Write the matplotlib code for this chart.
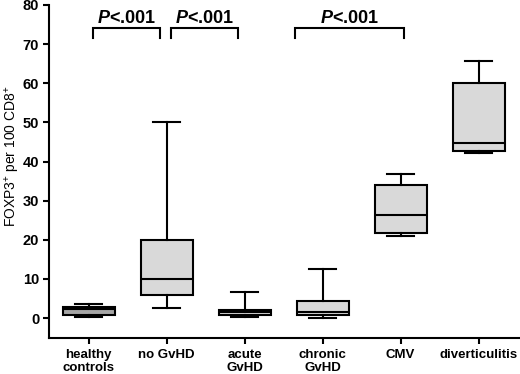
#!/usr/bin/env python3

import matplotlib
matplotlib.use('Agg')
import matplotlib.pyplot as plt

plt.rcParams['font.family'] = ['Liberation Sans', 'DejaVu Sans']
plt.rcParams['mathtext.fontset'] = 'custom'
plt.rcParams['mathtext.rm'] = 'Liberation Sans'
plt.rcParams['mathtext.bf'] = 'Liberation Sans:bold'
plt.rcParams['mathtext.bfit'] = 'Liberation Sans:italic:bold'
plt.rcParams['mathtext.default'] = 'regular'

# box plot summaries
categories = ['healthy\ncontrols', 'no GvHD', 'acute\nGvHD', 'chronic\nGvHD', 'CMV', 'diverticulitis']
whisker_low = [0.25, 2.5, 0.35, 0.1, 20.9, 42.1]
q1 = [0.7, 5.9, 0.85, 0.75, 21.7, 42.7]
medians = [2.4, 10.0, 1.45, 1.5, 26.4, 44.6]
q3 = [2.8, 20.0, 1.96, 4.25, 34.0, 60.0]
whisker_high = [3.7, 50.0, 6.7, 12.5, 36.8, 65.6]
box_colors = ['#a6a6a6', '#d9d9d9', '#d9d9d9', '#d9d9d9', '#d9d9d9', '#d9d9d9']

# significance brackets: (start, end)
brackets = [(1.06, 1.91), (2.05, 2.91), (3.64, 5.04)]

stats = []
for i in range(len(categories)):
    stats.append({'whislo': whisker_low[i], 'q1': q1[i], 'med': medians[i],
                  'q3': q3[i], 'whishi': whisker_high[i], 'fliers': []})

fig = plt.figure(figsize=(5.2, 3.74), dpi=100)
ax = fig.add_axes([0.094, 0.097, 0.906, 0.89])

lw = 1.5
positions = list(range(1, len(categories) + 1))
bp = ax.bxp(stats, positions=positions, widths=0.67, capwidths=0.34,
            patch_artist=True, showfliers=False,
            boxprops=dict(linewidth=lw, edgecolor='black'),
            medianprops=dict(linewidth=lw, color='black'),
            whiskerprops=dict(linewidth=lw, color='black'),
            capprops=dict(linewidth=lw, color='black'))
for patch, c in zip(bp['boxes'], box_colors):
    patch.set_facecolor(c)

bh, drop = 74.0, 2.4
for x0, x1 in brackets:
    ax.plot([x0, x0, x1, x1], [bh - drop, bh, bh, bh - drop], color='black', lw=lw,
            solid_joinstyle='miter', clip_on=False)
    ax.text((x0 + x1) / 2, 75.4, r'$\mathbfit{P}$<.001', ha='center', va='baseline',
            fontsize=13, fontweight='bold')

ax.set_xlim(0.49, 6.53)
ax.set_ylim(-5, 80)
ax.set_yticks(range(0, 81, 10))
ax.set_xticks(positions)
ax.set_xticklabels(categories, fontsize=9.5, fontweight='bold', linespacing=1.1)
for lab in ax.get_yticklabels():
    lab.set_fontweight('bold')
    lab.set_fontsize(10.5)
ax.tick_params(axis='both', width=lw, length=4, color='black')
ax.tick_params(axis='y', pad=3)
ax.tick_params(axis='x', pad=4)
for s in ['top', 'right']:
    ax.spines[s].set_visible(False)
for s in ['left', 'bottom']:
    ax.spines[s].set_linewidth(lw)
ax.set_ylabel('FOXP3$^{+}$ per 100 CD8$^{+}$', fontsize=10)
ax.yaxis.set_label_coords(-0.058, 0.545)

fig.savefig('out.png', dpi=100)
